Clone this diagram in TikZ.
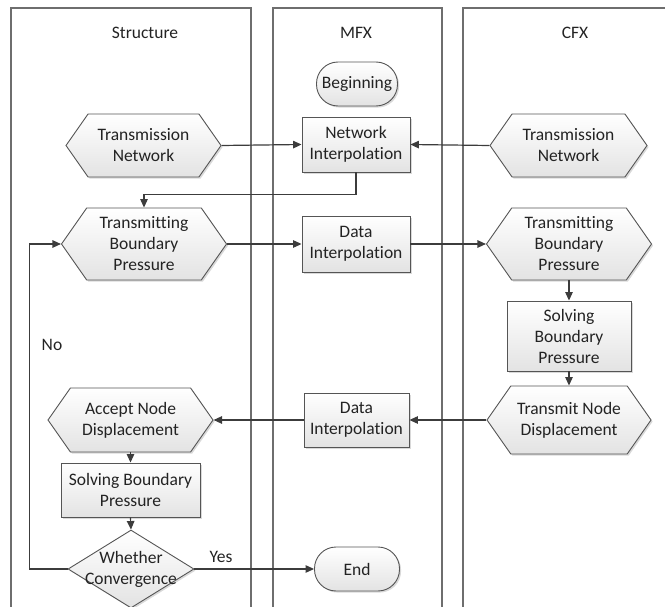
\documentclass[tikz,border=0pt]{standalone}
\usepackage{fontspec}
\setmainfont{Carlito}[Ligatures={NoCommon}]
\usetikzlibrary{shapes.symbols,shapes.geometric,arrows.meta,shadows}
\definecolor{lanec}{RGB}{110,110,110}
\definecolor{linec}{RGB}{60,60,60}
\definecolor{bordc}{RGB}{85,85,85}
\definecolor{txtc}{RGB}{35,35,35}
\begin{document}
\begin{tikzpicture}[x=1pt,y=-1pt,
  every node/.style={font=\fontsize{17.5}{21}\selectfont, text=txtc, align=center},
  base/.style={draw=bordc, line width=0.9pt, top color=white, bottom color=gray!22,
    drop shadow={opacity=0.3, shadow xshift=1.6pt, shadow yshift=-1.6pt}},
  hexa/.style={base, signal, signal to=west and east, signal from=nowhere,
    signal pointer angle=110, inner sep=0pt},
  box/.style={base, rectangle, inner sep=2pt},
  term/.style={base, rectangle, rounded corners=21.5pt, inner sep=0pt},
  dia/.style={base, diamond, inner sep=0pt},
  lane/.style={draw=lanec, line width=1.2pt},
  arr/.style={draw=linec, line width=1.2pt, -{Triangle[length=8.5pt,width=7.5pt]}},
  lbl/.style={inner sep=0pt}]
\useasboundingbox (0,0) rectangle (665,607);
\clip (0,0) rectangle (665,607);
% lanes
\draw[lane] (11,640) -- (11,8) -- (251,8) -- (251,640);
\draw[lane] (273,640) -- (273,8) -- (442,8) -- (442,640);
\draw[lane] (463,640) -- (463,8) -- (680,8);
\node[lbl] (tS) at (145,33) {Structure};
\node[lbl] (tM) at (356,33) {MFX};
\node[lbl] (tC) at (575,33) {CFX};
% nodes
\node[term, minimum width=81pt, minimum height=44pt] (beg) at (357,84) {Beginning};
\node[hexa, minimum width=155pt, minimum height=63pt] (tnl) at (143.5,145.5) {Transmission\\Network};
\node[box, minimum width=108pt, minimum height=55pt] (ni) at (356,144.5) {Network\\Interpolation};
\node[hexa, minimum width=157pt, minimum height=63pt] (tnr) at (568.5,145.5) {Transmission\\Network};
\node[hexa, minimum width=165pt, minimum height=72pt] (tbpl) at (144,244) {Transmitting\\Boundary\\Pressure};
\node[box, minimum width=108pt, minimum height=56pt] (diu) at (356,244) {Data\\Interpolation};
\node[hexa, minimum width=165pt, minimum height=72pt] (tbpr) at (569,244) {Transmitting\\Boundary\\Pressure};
\node[box, minimum width=124pt, minimum height=70pt] (sbpr) at (569,336) {Solving\\Boundary\\Pressure};
\node[hexa, minimum width=164pt, minimum height=68pt] (tnd) at (569,420) {Transmit Node\\Displacement};
\node[box, minimum width=105pt, minimum height=54pt] (dil) at (356.5,420) {Data\\Interpolation};
\node[hexa, minimum width=165pt, minimum height=64pt] (ans) at (130.5,420) {Accept Node\\Displacement};
\node[box, minimum width=139pt, minimum height=54pt] (sbpl) at (130.5,490) {Solving Boundary\\Pressure};
\node[dia, minimum width=126pt, minimum height=78pt] (dec) at (131,569) {};
\node[lbl] (dect) at (131,569) {Whether\\Convergence};
\node[term, minimum width=85pt, minimum height=44pt] (fin) at (357,569) {End};
% connectors
\draw[arr] (tnl.east) -- (ni.west);
\draw[arr] (tnr.west) -- (ni.east);
\draw[arr] (ni.south) -- ++(0,22) -| (tbpl.north);
\draw[arr] (tbpl.east) -- (diu.west);
\draw[arr] (diu.east) -- (tbpr.west);
\draw[arr] (tbpr.south) -- (sbpr.north);
\draw[arr] (sbpr.south) -- (tnd.north);
\draw[arr] (tnd.west) -- (dil.east);
\draw[arr] (dil.west) -- (ans.east);
\draw[arr] (ans.south) -- (sbpl.north);
\draw[arr] (sbpl.south) -- (dec.north);
\draw[arr] (dec.east) -- (fin.west);
\draw[arr] (dec.west) -- ++(-38,0) |- (tbpl.west);
\node[lbl] (yes) at (221,557) {Yes};
\node[lbl] (no) at (52,345) {No};
\end{tikzpicture}
\end{document}
